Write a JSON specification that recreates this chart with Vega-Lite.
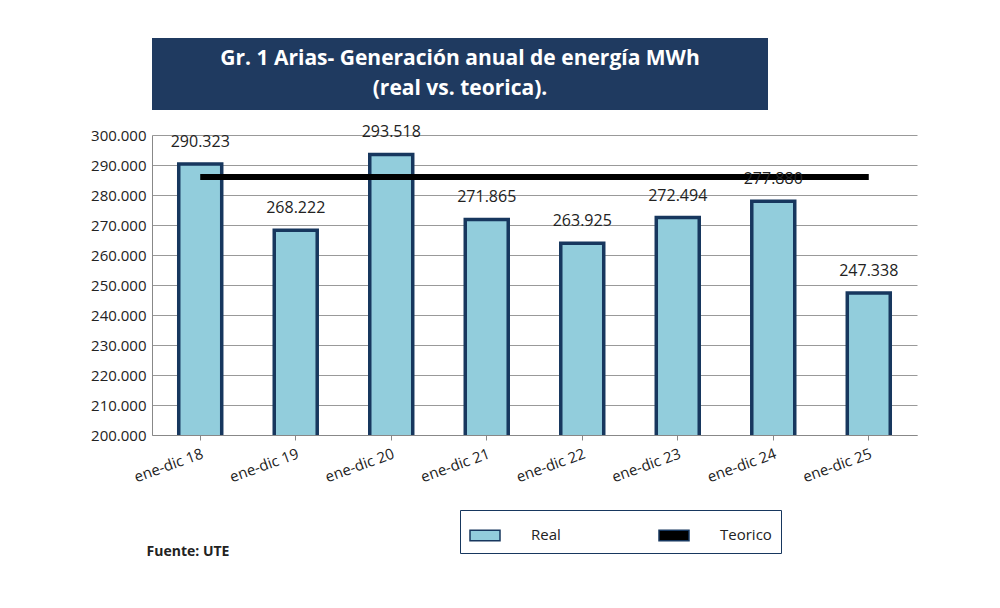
{
  "$schema": "https://vega.github.io/schema/vega-lite/v6.json",
  "background": "white",
  "padding": {"left": 90, "top": 38, "right": 140, "bottom": 10},
  "config": {
    "font": "Open Sans",
    "view": {"stroke": null},
    "axisY": {"values": [200000,210000,220000,230000,240000,250000,260000,270000,280000,290000,300000],
      "labelOverlap": false,
      "labelExpr": "replace(format(datum.value, ','), ',', '.')", "labelFontSize": 15, "labelColor": "#222",
      "gridColor": "#999", "domainColor": "#888", "ticks": false, "labelPadding": 6}
  },
  "bounds": "flush",
  "spacing": 25,
  "vconcat": [
    {
      "width": 616,
      "height": 72,
      "view": {"fill": "#1F3A60", "stroke": null},
      "data": {"values": [{"t": "Gr. 1 Arias- Generación anual de energía MWh\n(real vs. teorica)."}]},
      "mark": {"type": "text", "color": "white", "fontSize": 21, "fontWeight": "bold", "lineBreak": "\n", "lineHeight": 30, "align": "center", "baseline": "middle", "dy": -15},
      "encoding": {"text": {"field": "t"}}
    },
    {
      "width": 765,
      "height": 300,
      "title": {"text": "Fuente: UTE", "orient": "bottom", "anchor": "start", "fontSize": 14, "fontWeight": "bold", "color": "#222", "offset": 60, "dx": 56},
      "data": {"values": [
        {"p": "ene-dic 18", "v": 290323, "s": "Real", "t": 286000},
        {"p": "ene-dic 19", "v": 268222, "s": "Real", "t": 286000},
        {"p": "ene-dic 20", "v": 293518, "s": "Real", "t": 286000},
        {"p": "ene-dic 21", "v": 271865, "s": "Real", "t": 286000},
        {"p": "ene-dic 22", "v": 263925, "s": "Real", "t": 286000},
        {"p": "ene-dic 23", "v": 272494, "s": "Real", "t": 286000},
        {"p": "ene-dic 24", "v": 277880, "s": "Real", "t": 286000},
        {"p": "ene-dic 25", "v": 247338, "s": "Real", "t": 286000}
      ]},
      "encoding": {
        "x": {"field": "p", "type": "nominal", "sort": null, "title": null,
          "scale": {"paddingInner": 0.55, "paddingOuter": 0.28},
          "axis": {"labelAngle": -20, "labelFontSize": 15, "labelColor": "#222", "domainColor": "#888", "tickColor": "#888", "labelAlign": "right", "labelPadding": 6, "labelLimit": 300, "labelBound": false}}
      },
      "layer": [
        {
          "mark": {"type": "bar", "stroke": "#17375E", "strokeWidth": 3.5, "clip": true},
          "encoding": {
            "y": {"field": "v", "type": "quantitative", "title": null,
              "scale": {"domain": [200000, 300000], "nice": false, "zero": false}},
            "color": {"field": "s", "type": "nominal", "title": null,
              "scale": {"domain": ["Real", "Teorico"], "range": ["#92CDDC", "black"]},
              "legend": {"orient": "none", "legendX": 308, "legendY": 472, "direction": "horizontal", "padding": 9,
                "strokeColor": "#17375E", "labelFontSize": 15, "labelColor": "#222",
                "symbolType": "M-1,-0.35H1V0.35H-1Z", "symbolSize": 900, "columnPadding": 95, "labelOffset": 30,
                "encode": {
                  "legend": {"update": {"strokeWidth": {"value": 4}}},
                  "symbols": {"update": {
                  "stroke": {"signal": "datum.value == 'Real' ? '#17375E' : 'black'"},
                  "strokeWidth": {"signal": "datum.value == 'Real' ? 3 : 1"}}}}}}
          }
        },
        {
          "mark": {"type": "line", "color": "black", "strokeWidth": 6},
          "encoding": {"y": {"field": "t", "type": "quantitative", "title": null}}
        },
        {
          "transform": [{"calculate": "replace(format(datum.v, ','), ',', '.')", "as": "lbl"}],
          "mark": {"type": "text", "dy": -22, "fontSize": 16, "color": "#222"},
          "encoding": {
            "y": {"field": "v", "type": "quantitative", "title": null},
            "text": {"field": "lbl"}
          }
        }
      ]
    }
  ]
}
